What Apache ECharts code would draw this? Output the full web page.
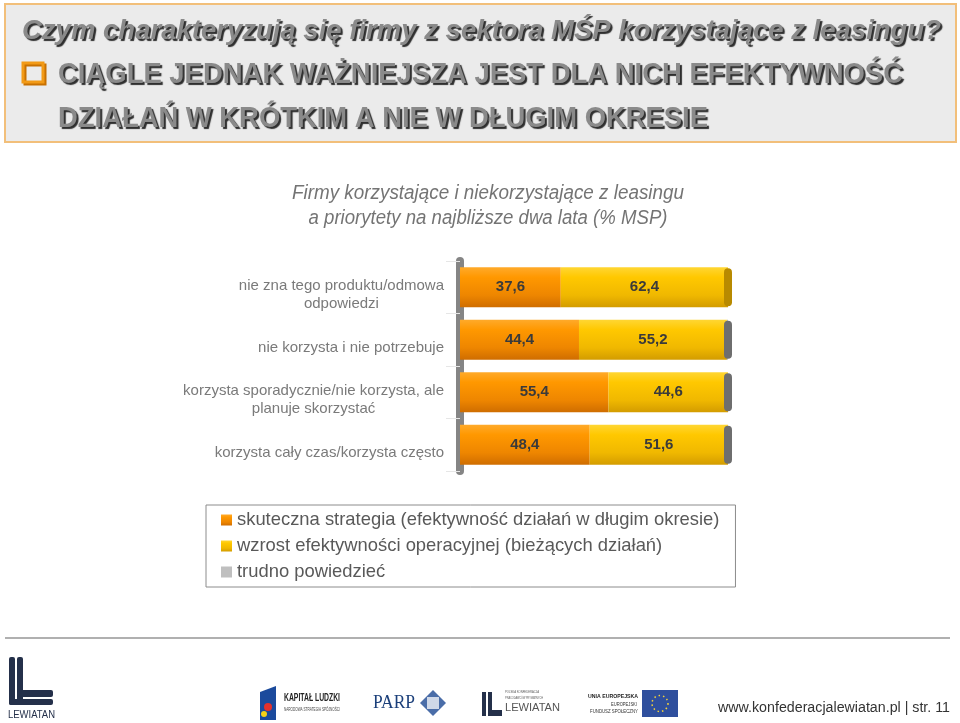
<!DOCTYPE html>
<html><head><meta charset="utf-8">
<script src="https://cdn.jsdelivr.net/npm/echarts@6/dist/echarts.min.js"></script>
<style>html,body{margin:0;padding:0;background:#fff}#c{width:960px;height:723px}</style>
</head><body><div id="c"></div>
<script>
const categories = [
  "nie zna tego produktu/odmowa\nodpowiedzi",
  "nie korzysta i nie potrzebuje",
  "korzysta sporadycznie/nie korzysta, ale\nplanuje skorzystać",
  "korzysta cały czas/korzysta często"
];
const seriesNames = [
  "skuteczna strategia (efektywność działań w długim okresie)",
  "wzrost efektywności operacyjnej (bieżących działań)",
  "trudno powiedzieć"
];
const longTerm = [37.6, 44.4, 55.4, 48.4];
const operational = [62.4, 55.2, 44.6, 51.6];
const hardToSay = [0, 0.4, 0, 0];

const SANS = "'Liberation Sans',Arial,sans-serif";
const capColors = ['#b88a00', '#6e6e6e', '#6e6e6e', '#6e6e6e'];

const mctx = document.createElement('canvas').getContext('2d');
function measure(text, font) { mctx.font = font; return mctx.measureText(text).width; }
// text fitted to a target width (the slide uses a condensed face)
function fitText(text, font, x, baseline, width, size, extra, align) {
  const w = measure(text, font);
  return {
    type: 'text', x: x, y: baseline - 0.33 * size, scaleX: width / w, z: 10,
    style: Object.assign({text: text, font: font, align: align || 'left', verticalAlign: 'middle'}, extra)
  };
}

function grad(c0, c1, c2, c3) {
  return new echarts.graphic.LinearGradient(0, 0, 0, 1, [
    {offset: 0, color: c0}, {offset: 0.25, color: c1},
    {offset: 0.7, color: c2}, {offset: 1, color: c3}
  ]);
}
const fmt = p => p.value > 1 ? String(p.value).replace('.', ',') : '';
const labelStyle = {show: true, position: 'inside', formatter: fmt, color: '#3a3a3a',
  fontFamily: SANS, fontWeight: 'bold', fontSize: 15};

const totals = longTerm.map((v, i) => v + operational[i] + hardToSay[i]);

const headStyle = {fill: '#8a8a8a', textShadowColor: '#2e2e2e', textShadowOffsetX: 2, textShadowOffsetY: 2, textShadowBlur: 1};
const subStyle = {fill: '#747474'};

const chart = echarts.init(document.getElementById('c'), null, {renderer: 'canvas'});
chart.setOption({
  backgroundColor: '#ffffff',
  animation: false,
  graphic: [
    {type: 'rect', z: -10, shape: {x: 5, y: 4, width: 951, height: 138},
      style: {fill: '#ebebeb', stroke: '#f2bf7a', lineWidth: 2}},
    {type: 'rect', z: 0, shape: {x: 23, y: 63, width: 20, height: 19},
      style: {fill: 'none', stroke: '#f29a16', lineWidth: 3, shadowColor: '#c87000', shadowOffsetX: 2, shadowOffsetY: 2}},
    fitText('Czym charakteryzują się firmy z sektora MŚP korzystające z leasingu?',
      "italic bold 27px " + SANS, 22, 40.5, 919, 27, headStyle),
    fitText('CIĄGLE JEDNAK WAŻNIEJSZA JEST DLA NICH EFEKTYWNOŚĆ',
      "bold 29px " + SANS, 58, 85, 845, 29, headStyle),
    fitText('DZIAŁAŃ W KRÓTKIM A NIE W DŁUGIM OKRESIE',
      "bold 29px " + SANS, 58, 129, 650, 29, headStyle),
    fitText('Firmy korzystające i niekorzystające z leasingu',
      "italic 19.5px " + SANS, 488, 200, 392, 19.5, subStyle, 'center'),
    fitText('a priorytety na najbliższe dwa lata (% MSP)',
      "italic 19.5px " + SANS, 488, 225, 359, 19.5, subStyle, 'center'),
    fitText('www.konfederacjalewiatan.pl | str. 11',
      "15.5px " + SANS, 718, 713, 232, 15.5, {fill: '#333333'}),
    {type: 'line', shape: {x1: 5, y1: 638, x2: 950, y2: 638}, style: {stroke: '#b0b0b0', lineWidth: 2}},
    // LEWIATAN logo (left)
    {type: 'rect', shape: {x: 9, y: 657, width: 6, height: 48, r: 2}, style: {fill: '#24304a'}},
    {type: 'rect', shape: {x: 17, y: 657, width: 6, height: 48, r: 2}, style: {fill: '#24304a'}},
    {type: 'rect', shape: {x: 17, y: 690, width: 36, height: 7, r: 2}, style: {fill: '#24304a'}},
    {type: 'rect', shape: {x: 9, y: 699, width: 44, height: 6, r: 2}, style: {fill: '#24304a'}},
    fitText('LEWIATAN', "10px " + SANS, 8, 719, 47, 10, {fill: '#24304a'}),
    // Kapitał Ludzki
    {type: 'polygon', shape: {points: [[260, 692], [276, 686], [276, 720], [260, 720]]}, style: {fill: '#1b4a9c'}},
    {type: 'circle', shape: {cx: 268, cy: 707, r: 4}, style: {fill: '#e4312b'}},
    {type: 'circle', shape: {cx: 264, cy: 714, r: 3}, style: {fill: '#f7d117'}},
    fitText('KAPITAŁ LUDZKI', "bold 11px " + SANS, 284, 702, 56, 11, {fill: '#222'}),
    fitText('NARODOWA STRATEGIA SPÓJNOŚCI', "5px " + SANS, 284, 711, 56, 5, {fill: '#444'}),
    // PARP
    fitText('PARP', "18px 'Liberation Serif',serif", 373, 709, 42, 18, {fill: '#1b3f7a'}),
    {type: 'polygon', shape: {points: [[433, 690], [446, 703], [433, 716], [420, 703]]}, style: {fill: '#4a6da8'}},
    {type: 'rect', shape: {x: 427, y: 697, width: 12, height: 12}, style: {fill: '#cfd8e8'}},
    // Lewiatan small
    {type: 'rect', shape: {x: 482, y: 692, width: 4, height: 24}, style: {fill: '#24304a'}},
    {type: 'rect', shape: {x: 488, y: 692, width: 4, height: 24}, style: {fill: '#24304a'}},
    {type: 'rect', shape: {x: 488, y: 710, width: 14, height: 6}, style: {fill: '#24304a'}},
    fitText('POLSKA KONFEDERACJA', "4px " + SANS, 505, 693, 34, 4, {fill: '#555'}),
    fitText('PRACODAWCÓW PRYWATNYCH', "4px " + SANS, 505, 699, 38, 4, {fill: '#555'}),
    fitText('LEWIATAN', "10px " + SANS, 505, 712, 55, 10, {fill: '#555'}),
    // UE
    fitText('UNIA EUROPEJSKA', "bold 6px " + SANS, 588, 698, 50, 6, {fill: '#222'}),
    fitText('EUROPEJSKI', "5px " + SANS, 611, 706, 26, 5, {fill: '#333'}),
    fitText('FUNDUSZ SPOŁECZNY', "5px " + SANS, 590, 713, 48, 5, {fill: '#333'}),
    {type: 'rect', shape: {x: 642, y: 690, width: 36, height: 27}, style: {fill: '#2f4f9d'}},
    {type: 'circle', shape: {cx: 660, cy: 703.5, r: 8}, style: {fill: 'none', stroke: '#f5d33b', lineWidth: 1.5, lineDash: [1.5, 3]}}
  ],
  legend: {
    orient: 'vertical', left: 206, top: 505,
    data: seriesNames,
    icon: 'rect', itemWidth: 11, itemHeight: 11, itemGap: 8,
    borderColor: '#8c8c8c', borderWidth: 1, borderRadius: 0,
    padding: [6, 16, 6, 15],
    textStyle: {fontFamily: SANS, fontSize: 18.4, color: '#595959'},
    selectedMode: false
  },
  grid: {left: 460, right: 232, top: 261, height: 210, containLabel: false},
  xAxis: {type: 'value', min: 0, max: 100, show: false},
  yAxis: {
    type: 'category', inverse: true, data: categories, offset: 4,
    axisLine: {show: true, lineStyle: {color: '#858585', width: 8}},
    axisTick: {show: true, length: 14, lineStyle: {color: '#e6e6e6', width: 1}},
    axisLabel: {
      margin: 12, align: 'right', padding: [16, 0, 0, 0],
      fontFamily: SANS, fontSize: 15, color: '#7a7a7a', lineHeight: 18,
      formatter: v => v.split('\n').map(s => '{c|' + s + '}').join('\n'),
      rich: {c: {align: 'center', fontFamily: SANS, fontSize: 15, color: '#7a7a7a', lineHeight: 18}}
    }
  },
  series: [
    {name: seriesNames[0], type: 'bar', stack: 't', barWidth: 40, data: longTerm,
      itemStyle: {color: grad('#ffaa2a', '#ff9800', '#ee8600', '#cf6d00')}, label: labelStyle},
    {name: seriesNames[1], type: 'bar', stack: 't', barWidth: 40, data: operational,
      itemStyle: {color: grad('#ffd633', '#ffc800', '#f0b800', '#d39c00')}, label: labelStyle},
    {name: seriesNames[2], type: 'bar', stack: 't', barWidth: 40, data: hardToSay,
      itemStyle: {color: '#bfbfbf'}, label: {show: false}},
    {type: 'custom', data: totals.map((t, i) => [t, i]), z: 5, silent: true,
      renderItem: (params, api) => {
        const p = api.coord([api.value(0), api.value(1)]);
        return {type: 'rect', shape: {x: p[0] - 4, y: p[1] - 19, width: 8, height: 38, r: 4},
          style: {fill: capColors[params.dataIndex]}};
      }}
  ]
});
</script></body></html>
